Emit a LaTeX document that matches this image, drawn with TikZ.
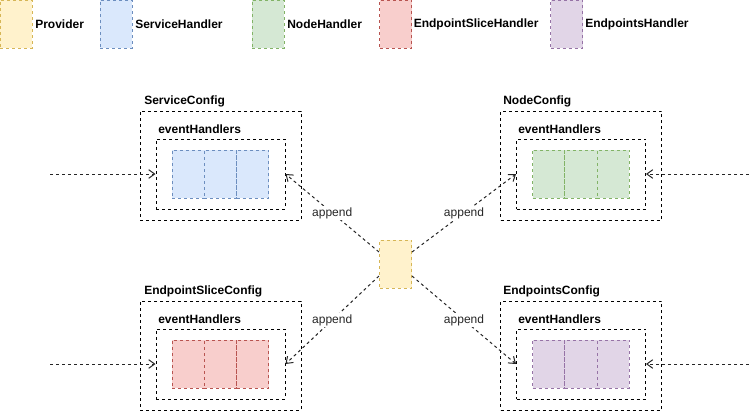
\documentclass[tikz,border=0pt]{standalone}
\usepackage{fontspec}
\setmainfont{Liberation Sans}
\usetikzlibrary{arrows.meta,positioning}
\definecolor{provF}{HTML}{FFF2CC}\definecolor{provD}{HTML}{D6B656}
\definecolor{svcF}{HTML}{DAE8FC}\definecolor{svcD}{HTML}{6C8EBF}
\definecolor{nodF}{HTML}{D5E8D4}\definecolor{nodD}{HTML}{82B366}
\definecolor{esF}{HTML}{F8CECC}\definecolor{esD}{HTML}{B85450}
\definecolor{epF}{HTML}{E1D5E7}\definecolor{epD}{HTML}{9673A6}
\tikzset{
  dsh/.style={dash pattern=on 2.25pt off 2.25pt},
  lbl/.style={font=\fontsize{9pt}{11pt}\selectfont\bfseries, inner sep=0pt, anchor=west},
  legbox/.style={draw=#1D, fill=#1F, dsh, line width=0.75pt, minimum width=24pt, minimum height=36pt, inner sep=0pt},
  cell/.style={draw=#1D, fill=#1F, dsh, line width=0.75pt, minimum width=24.25pt, minimum height=36pt, inner sep=0pt},
  outerbox/.style={draw=black, dsh, line width=0.75pt, minimum width=120.75pt, minimum height=81.75pt, inner sep=0pt},
  innerbox/.style={draw=black, dsh, line width=0.75pt, minimum width=96.75pt, minimum height=52.5pt, inner sep=0pt},
  conn/.style={draw=black!85, dsh, line width=0.75pt, -{Straight Barb[length=4.5pt,width=6.5pt,line width=0.75pt]}},
  mid/.style={font=\fontsize{9pt}{11pt}\selectfont, text=black!85, fill=white, inner sep=1pt, midway},
}
\begin{document}
\begin{tikzpicture}[x=0.75pt,y=-0.75pt]
\useasboundingbox (0,0) rectangle (749,411);
% legend
\node[legbox=prov] (lp) at (16,24) {};
\node[lbl] (lpt) at (35,24) {Provider};
\node[legbox=svc] (ls) at (116,24) {};
\node[lbl] (lst) at (135,24) {ServiceHandler};
\node[legbox=nod] (ln) at (268,24) {};
\node[lbl] (lnt) at (287,24) {NodeHandler};
\node[legbox=es] (le) at (395.5,24) {};
\node[lbl] (let) at (413.5,24) {EndpointSliceHandler};
\node[legbox=ep] (lq) at (566.5,24) {};
\node[lbl] (lqt) at (585,24) {EndpointsHandler};

% ServiceConfig
\node[outerbox] (sO) at (220.5,165.5) {};
\node[lbl] (sOt) at (144,101) {ServiceConfig};
\node[innerbox] (sI) at (220.5,174) {};
\node[lbl] (sIt) at (158,129) {eventHandlers};
\node[cell=svc] (s1) at (188.2,174) {};
\node[cell=svc] (s2) at (220.5,174) {};
\node[cell=svc] (s3) at (252.8,174) {};

% NodeConfig
\node[outerbox] (nO) at (581,165.5) {};
\node[lbl] (nOt) at (503,101) {NodeConfig};
\node[innerbox] (nI) at (581,174) {};
\node[lbl] (nIt) at (518,129) {eventHandlers};
\node[cell=nod] (n1) at (548.7,174) {};
\node[cell=nod] (n2) at (581,174) {};
\node[cell=nod] (n3) at (613.3,174) {};

% EndpointSliceConfig
\node[outerbox] (eO) at (220.5,355.5) {};
\node[lbl] (eOt) at (144,291) {EndpointSliceConfig};
\node[innerbox] (eI) at (220.5,364) {};
\node[lbl] (eIt) at (158,319) {eventHandlers};
\node[cell=es] (e1) at (188.2,364) {};
\node[cell=es] (e2) at (220.5,364) {};
\node[cell=es] (e3) at (252.8,364) {};

% EndpointsConfig
\node[outerbox] (pO) at (581,355.5) {};
\node[lbl] (pOt) at (503,291) {EndpointsConfig};
\node[innerbox] (pI) at (581,364) {};
\node[lbl] (pIt) at (518,319) {eventHandlers};
\node[cell=ep] (p1) at (548.7,364) {};
\node[cell=ep] (p2) at (581,364) {};
\node[cell=ep] (p3) at (613.3,364) {};

% Provider
\node[legbox=prov] (prov) at (395.5,264) {};

% inputs
\coordinate (inS) at (50,174);
\coordinate (inN) at (749,174);
\coordinate (inE) at (50,364);
\coordinate (inP) at (749,364);
\draw[conn] (inS) -- (sI.west);
\draw[conn] (inN) -- (nI.east);
\draw[conn] (inE) -- (eI.west);
\draw[conn] (inP) -- (pI.east);

% append
\draw[conn] ([yshift=9pt]prov.west) -- (sI.east) node[mid] {append};
\draw[conn] ([yshift=9pt]prov.east) -- (nI.west) node[mid] {append};
\draw[conn] ([yshift=-9pt]prov.west) -- (eI.east) node[mid] {append};
\draw[conn] ([yshift=-9pt]prov.east) -- (pI.west) node[mid] {append};
\end{tikzpicture}
\end{document}
